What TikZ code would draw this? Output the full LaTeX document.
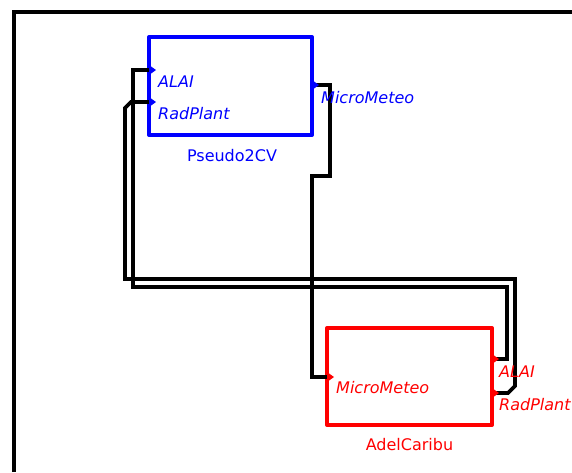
\documentclass[tikz,border=0pt]{standalone}
\usepackage{fontspec}
\setmainfont{DejaVu Sans}
\begin{document}
\begin{tikzpicture}[x=1pt,y=-1pt,
  box/.style={line width=4pt, outer sep=0pt, inner sep=0pt, line join=round},
  wire/.style={draw=black, line width=3.8pt, line join=miter},
  frame/.style={draw=black, line width=3.5pt},
  plabel/.style={font=\fontsize{16}{16}\selectfont\itshape, inner sep=0pt, anchor=base west},
  blabel/.style={font=\fontsize{16}{16}\selectfont, inner sep=0pt, anchor=base}
]
\useasboundingbox (0,0) rectangle (572,472);
\definecolor{pblue}{RGB}{0,0,255}
\definecolor{pred}{RGB}{255,0,0}
% frame
\draw[frame] (14,472) -- (14,12) -- (572,12);
% boxes
\node[box, draw=pblue, minimum width=163pt, minimum height=98pt] (p2cv) at (230.5,86) {};
\node[box, draw=pred, minimum width=165pt, minimum height=97pt] (adel) at (409.5,376.5) {};
% port coordinates
\coordinate (pA) at (149,70);
\coordinate (pR) at (149,102);
\coordinate (pM) at (312,85);
\coordinate (aM) at (327,377);
\coordinate (aA) at (492,359);
\coordinate (aR) at (492,393);
% wires
\draw[wire] (pM) -- (330,85) -- (330,176) -- (312,176) -- (312,377) -- (aM);
\draw[wire] (aA) -- (507,359) -- (507,287) -- (133,287) -- (133,70) -- (pA);
\draw[wire] (aR) -- (508,393) -- (515,386) -- (515,279) -- (125,279) -- (125,108) -- (131,102) -- (pR);
% port markers
\foreach \p/\c in {pA/pblue,pR/pblue,pM/pblue,aM/pred,aA/pred,aR/pred}{
  \fill[\c] ([yshift=-5pt]\p) -- ([xshift=7pt]\p) -- ([yshift=5pt]\p) -- cycle;
}
% labels
\node[plabel, text=pblue] (lpA) at (158,87) {ALAI};
\node[plabel, text=pblue] (lpR) at (158,119) {RadPlant};
\node[plabel, text=pblue] (lpM) at (321,103) {MicroMeteo};
\node[blabel, text=pblue] (lp) at (232,161) {Pseudo2CV};
\node[plabel, text=pred] (laM) at (336,393) {MicroMeteo};
\node[plabel, text=pred] (laA) at (499,377) {ALAI};
\node[plabel, text=pred] (laR) at (499,410) {RadPlant};
\node[blabel, text=pred] (la) at (409.5,450) {AdelCaribu};
\end{tikzpicture}
\end{document}
